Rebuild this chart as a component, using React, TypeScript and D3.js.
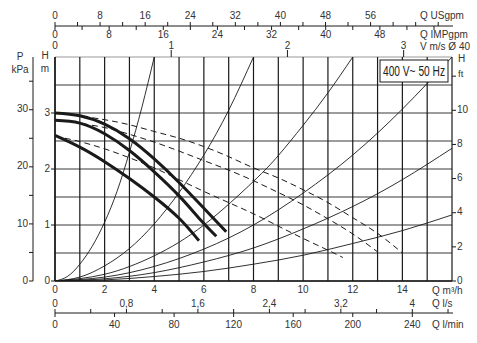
import * as d3 from 'd3';
import React from 'react';

// pump curves, Q in m³/h and H in m
const maxSpeedQ = [0, 1, 2, 3, 4, 5, 6, 6.9];
const maxSpeedH = [3.0, 2.95, 2.8, 2.54, 2.18, 1.76, 1.3, 0.88];
const midSpeedQ = [0, 1, 2, 3, 4, 5, 5.85, 6.5];
const midSpeedH = [2.87, 2.82, 2.63, 2.33, 1.95, 1.52, 1.1, 0.8];
const minSpeedQ = [0, 1, 2, 3, 4, 5, 5.8];
const minSpeedH = [2.6, 2.39, 2.13, 1.83, 1.5, 1.12, 0.72];

// dashed curves
const dashMaxQ = [0.7, 2, 3, 4, 5, 6, 7, 8, 9, 10, 11, 12, 13, 14];
const dashMaxH = [2.97, 2.88, 2.79, 2.67, 2.55, 2.4, 2.22, 2.02, 1.84, 1.63, 1.4, 1.13, 0.85, 0.5];
const dashMidQ = [0.7, 1.1, 2, 3, 4, 5, 6, 7, 8, 9, 10, 11, 12, 13];
const dashMidH = [2.85, 2.81, 2.74, 2.62, 2.48, 2.32, 2.15, 1.98, 1.79, 1.58, 1.36, 1.11, 0.84, 0.52];
const dashMinQ = [0.4, 1, 2, 3, 4, 5, 6, 7, 8, 9, 10, 11, 11.6];
const dashMinH = [2.55, 2.49, 2.36, 2.2, 2.02, 1.81, 1.6, 1.4, 1.2, 0.98, 0.76, 0.55, 0.42];

// thin curves from the origin
const sysAQ = [0, 0.5, 1, 1.5, 2, 2.5, 3, 3.5, 4];
const sysAH = [0, 0.08, 0.3, 0.62, 1.05, 1.6, 2.3, 3.1, 4.0];
const sysBQ = [0, 1, 2, 3, 4, 5, 6, 7, 8];
const sysBH = [0, 0.07, 0.27, 0.58, 1.02, 1.58, 2.25, 3.05, 4.0];
const sysCQ = [0, 2, 4, 6, 8, 9, 10, 11, 12];
const sysCH = [0, 0.12, 0.45, 1.0, 1.78, 2.24, 2.78, 3.36, 4.0];
const sysWideQ = [0, 2, 4, 6, 8, 10, 12, 14, 16];
const sysDH = [0, 0.07, 0.26, 0.57, 1.0, 1.57, 2.25, 3.07, 4.0];
const sysEH = [0, 0.04, 0.15, 0.34, 0.59, 0.93, 1.33, 1.81, 2.37];
const sysFH = [0, 0.02, 0.08, 0.17, 0.3, 0.46, 0.67, 0.9, 1.18];

// axis labels
const flowTicks = [0, 2, 4, 6, 8, 10, 12, 14];
const headTicks = [0, 1, 2, 3];
const kpaTicks = [0, 10, 20, 30];
const ftTicks = [0, 2, 4, 6, 8, 10];
const usTicks = [0, 8, 16, 24, 32, 40, 48, 56];
const impTicks = [0, 8, 16, 24, 32, 40, 48];
const speedTicks = [0, 1, 2, 3];
const lsTicks = [0, 0.8, 1.6, 2.4, 3.2, 4];
const lminTicks = [0, 40, 80, 120, 160, 200, 240];

const US_PER_M3H = 4.4029;
const IMP_PER_M3H = 3.6662;
const LS_PER_M3H = 1 / 3.6;
const LMIN_PER_M3H = 1000 / 60;
const KPA_PER_M = 9.81;
const FT_PER_M = 3.2808;
const PIPE_D = 0.0407; // Ø 40
const VEL_PER_M3H = 1 / (3600 * Math.PI * PIPE_D * PIPE_D / 4);

const plot = { left: 55, right: 452, top: 57, bottom: 281 };
const qMax = 16;
const hMax = 4;

const font = { fontFamily: '"Liberation Sans", Arial, sans-serif', fontSize: 10, fill: '#333' };
const ink = '#1a1a1a';

const zip = (qs: number[], hs: number[]) => qs.map((q, i) => [q, hs[i]] as [number, number]);

export default function App() {
  const x = d3.scaleLinear().domain([0, qMax]).range([plot.left, plot.right]);
  const y = d3.scaleLinear().domain([0, hMax]).range([plot.bottom, plot.top]);
  const xUs = d3.scaleLinear().domain([0, qMax * US_PER_M3H]).range([plot.left, plot.right]);
  const xImp = d3.scaleLinear().domain([0, qMax * IMP_PER_M3H]).range([plot.left, plot.right]);
  const xVel = d3.scaleLinear().domain([0, qMax * VEL_PER_M3H]).range([plot.left, plot.right]);
  const xLs = d3.scaleLinear().domain([0, qMax * LS_PER_M3H]).range([plot.left, plot.right]);
  const xLmin = d3.scaleLinear().domain([0, qMax * LMIN_PER_M3H]).range([plot.left, plot.right]);
  const yKpa = d3.scaleLinear().domain([0, hMax * KPA_PER_M]).range([plot.bottom, plot.top]);
  const yFt = d3.scaleLinear().domain([0, hMax * FT_PER_M]).range([plot.bottom, plot.top]);

  const line = d3
    .line<[number, number]>()
    .x((d) => x(d[0]))
    .y((d) => y(d[1]))
    .curve(d3.curveNatural);

  const pumpCurves = [zip(maxSpeedQ, maxSpeedH), zip(midSpeedQ, midSpeedH), zip(minSpeedQ, minSpeedH)];
  const dashCurves = [zip(dashMaxQ, dashMaxH), zip(dashMidQ, dashMidH), zip(dashMinQ, dashMinH)];
  const sysCurves = [
    zip(sysAQ, sysAH),
    zip(sysBQ, sysBH),
    zip(sysCQ, sysCH),
    zip(sysWideQ, sysDH),
    zip(sysWideQ, sysEH),
    zip(sysWideQ, sysFH),
  ];

  const usMinor = d3.range(0, qMax * US_PER_M3H, 4);
  const impMinor = d3.range(0, qMax * IMP_PER_M3H, 4);
  const lsMinor = d3.range(0, qMax * LS_PER_M3H, 0.4);
  const kpaMinor = d3.range(0, hMax * KPA_PER_M, 5);
  const ftMinor = d3.range(0, hMax * FT_PER_M, 2);

  const topLine = 26;
  const bottomLine = 313;

  return (
    <svg
      width={477}
      height={343}
      style={{ position: 'absolute', left: 0, top: 0, background: '#fff' }}
    >
      <defs>
        <clipPath id="plot-clip">
          <rect x={plot.left} y={plot.top} width={plot.right - plot.left} height={plot.bottom - plot.top} />
        </clipPath>
      </defs>

      {/* grid */}
      {d3.range(0, hMax + 0.01, 0.5).map((h) => (
        <line
          key={`h-${h}`}
          x1={plot.left}
          x2={plot.right}
          y1={y(h)}
          y2={y(h)}
          stroke={h === hMax ? '#999' : '#3a3a3a'}
          strokeWidth={h === 0 ? 1.8 : 1.2}
        />
      ))}
      {d3.range(0, qMax + 0.01, 1).map((q) => (
        <line
          key={`v-${q}`}
          x1={x(q)}
          x2={x(q)}
          y1={plot.top}
          y2={plot.bottom}
          stroke={ink}
          strokeWidth={q === 0 ? 1.8 : 1.2}
        />
      ))}

      <g clipPath="url(#plot-clip)">
        {sysCurves.map((c, i) => (
          <path key={`sys-${i}`} d={line(c) || ''} fill="none" stroke={ink} strokeWidth={0.9} />
        ))}
        {dashCurves.map((c, i) => (
          <path
            key={`dash-${i}`}
            d={line(c) || ''}
            fill="none"
            stroke={ink}
            strokeWidth={1}
            strokeDasharray="6,4"
          />
        ))}
        {pumpCurves.map((c, i) => (
          <path key={`pump-${i}`} d={line(c) || ''} fill="none" stroke={ink} strokeWidth={3} />
        ))}
      </g>

      {/* voltage box */}
      <rect x={380} y={60} width={68} height={22} fill="#fff" stroke={ink} strokeWidth={1} />
      <text
        transform="translate(414,76) scale(0.68,1)"
        textAnchor="middle"
        style={{ ...font, fontSize: 15, fill: '#222' }}
      >
        400 V~ 50 Hz
      </text>

      {/* left kPa axis */}
      <line x1={33} x2={33} y1={plot.top} y2={plot.bottom} stroke={ink} strokeWidth={1} />
      {kpaMinor.map((k) => (
        <line key={`kt-${k}`} x1={29} x2={33} y1={yKpa(k)} y2={yKpa(k)} stroke={ink} strokeWidth={1} />
      ))}
      {kpaTicks.map((k) => (
        <text key={`kl-${k}`} x={28} y={yKpa(k)} textAnchor="end" dominantBaseline="middle" style={font}>
          {k}
        </text>
      ))}
      <text x={20} y={57} textAnchor="middle" dominantBaseline="middle" style={font}>P</text>
      <text x={20} y={70} textAnchor="middle" dominantBaseline="middle" style={font}>kPa</text>

      {/* left H axis */}
      {headTicks.map((h) => (
        <g key={`hl-${h}`}>
          <line x1={51} x2={plot.left} y1={y(h)} y2={y(h)} stroke={ink} strokeWidth={1} />
          <text x={50} y={y(h)} textAnchor="end" dominantBaseline="middle" style={font}>
            {h}
          </text>
        </g>
      ))}
      <text x={45} y={56} textAnchor="middle" dominantBaseline="middle" style={font}>H</text>
      <text x={45} y={69} textAnchor="middle" dominantBaseline="middle" style={font}>m</text>

      {/* right ft axis */}
      {ftMinor.map((f) => (
        <line key={`ft-${f}`} x1={plot.right} x2={plot.right + 4} y1={yFt(f)} y2={yFt(f)} stroke={ink} strokeWidth={1} />
      ))}
      {ftTicks.map((f) => (
        <text key={`fl-${f}`} x={plot.right + 5} y={yFt(f)} dominantBaseline="middle" style={font}>
          {f}
        </text>
      ))}
      <text x={plot.right + 6} y={59} dominantBaseline="middle" style={font}>H</text>
      <text x={plot.right + 6} y={74} dominantBaseline="middle" style={{ ...font, fontSize: 9.5 }}>ft</text>

      {/* top axes */}
      <line x1={plot.left} x2={plot.right + 1} y1={topLine} y2={topLine} stroke={ink} strokeWidth={1} />
      {usMinor.map((v) => (
        <line key={`us-${v}`} x1={xUs(v)} x2={xUs(v)} y1={topLine - 4} y2={topLine} stroke={ink} strokeWidth={1} />
      ))}
      {impMinor.map((v) => (
        <line key={`imp-${v}`} x1={xImp(v)} x2={xImp(v)} y1={topLine} y2={topLine + 4} stroke={ink} strokeWidth={1} />
      ))}
      {usTicks.map((v) => (
        <text key={`usl-${v}`} x={xUs(v)} y={16} textAnchor="middle" dominantBaseline="middle" style={font}>
          {v}
        </text>
      ))}
      {impTicks.map((v) => (
        <text key={`impl-${v}`} x={xImp(v)} y={35} textAnchor="middle" dominantBaseline="middle" style={font}>
          {v}
        </text>
      ))}
      {speedTicks.map((v) => (
        <g key={`vel-${v}`}>
          {v > 0 && <line x1={xVel(v)} x2={xVel(v)} y1={50} y2={plot.top} stroke={ink} strokeWidth={1} />}
          <text x={xVel(v)} y={46} textAnchor="middle" dominantBaseline="middle" style={font}>
            {v}
          </text>
        </g>
      ))}
      <text x={420} y={16} dominantBaseline="middle" style={font}>Q USgpm</text>
      <text x={420} y={35} dominantBaseline="middle" style={font}>Q IMPgpm</text>
      <text x={420} y={47} dominantBaseline="middle" style={font}>V m/s Ø 40</text>

      {/* bottom axes */}
      {flowTicks.map((q) => (
        <text key={`ql-${q}`} x={x(q)} y={290} textAnchor="middle" dominantBaseline="middle" style={font}>
          {q}
        </text>
      ))}
      <text x={432} y={291} dominantBaseline="middle" style={font}>Q m³/h</text>

      <line x1={plot.left} x2={plot.right + 1} y1={bottomLine} y2={bottomLine} stroke={ink} strokeWidth={1} />
      {lsMinor.map((v) => (
        <line key={`ls-${v}`} x1={xLs(v)} x2={xLs(v)} y1={bottomLine - 4} y2={bottomLine} stroke={ink} strokeWidth={1} />
      ))}
      {lminTicks.map((v) => (
        <line key={`lmt-${v}`} x1={xLmin(v)} x2={xLmin(v)} y1={bottomLine} y2={bottomLine + 4} stroke={ink} strokeWidth={1} />
      ))}
      {lsTicks.map((v) => (
        <text key={`lsl-${v}`} x={xLs(v)} y={304} textAnchor="middle" dominantBaseline="middle" style={font}>
          {String(v).replace('.', ',')}
        </text>
      ))}
      {lminTicks.map((v) => (
        <text key={`lml-${v}`} x={xLmin(v)} y={325} textAnchor="middle" dominantBaseline="middle" style={font}>
          {v}
        </text>
      ))}
      <text x={432} y={304} dominantBaseline="middle" style={font}>Q l/s</text>
      <text x={432} y={325} dominantBaseline="middle" style={font}>Q l/min</text>
    </svg>
  );
}
